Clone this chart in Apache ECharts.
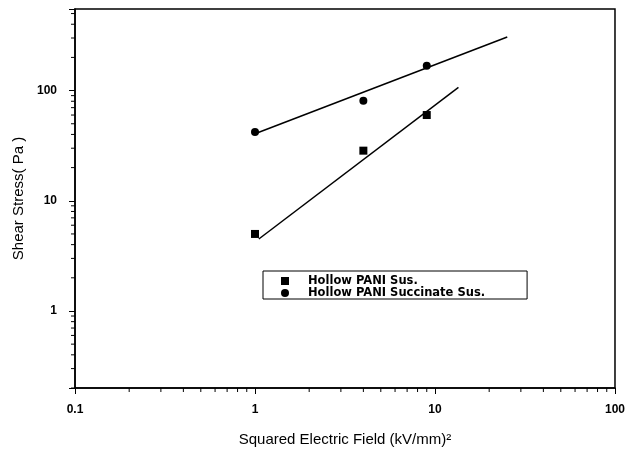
<!DOCTYPE html>
<html>
<head>
<meta charset="utf-8">
<script src="https://cdn.jsdelivr.net/npm/echarts@6/dist/echarts.min.js"></script>
<style>
html,body{margin:0;padding:0;background:#fff;}
#chart{width:628px;height:455px;}
</style>
</head>
<body>
<div id="chart"></div>
<script>
// Data
const seriesNames = ['Hollow PANI Sus.', 'Hollow PANI Succinate Sus.'];
const susX = [1, 4, 9];
const susY = [5, 28.5, 60];
const sucX = [1, 4, 9];
const sucY = [42, 81, 168];
// fitted lines (start and end points)
const susFitX = [1.05, 13.5];
const susFitY = [4.5, 107];
const sucFitX = [1, 25.2];
const sucFitY = [40.6, 306];
// axis ranges / tick labels
const xRange = [0.1, 100];
const yRange = [0.2, 550];
const xTickLabels = ['0.1', '1', '10', '100'];
const yTickLabels = ['1', '10', '100'];

function zip(a, b) { return a.map((v, i) => [v, b[i]]); }
function minorTicks(lo, hi) {
  const out = [];
  for (let e = -2; e <= 3; e++) {
    for (let m = 2; m <= 9; m++) {
      const v = +(m * Math.pow(10, e)).toPrecision(6);
      if (v >= lo && v <= hi) out.push(v);
    }
  }
  return out;
}
const xMinor = minorTicks(xRange[0], xRange[1]);
const yMinor = minorTicks(yRange[0], yRange[1]);

const font = '"Liberation Sans", Arial, sans-serif';
const legendFont = '"DejaVu Sans", sans-serif';
const chart = echarts.init(document.getElementById('chart'), null, {renderer: 'canvas'});

function fmt(labels) {
  return function (v) {
    const s = String(+v.toPrecision(6));
    return labels.indexOf(s) >= 0 ? s : '';
  };
}

chart.setOption({
  animation: false,
  backgroundColor: '#fff',
  grid: {left: 75, right: 11, top: 9, bottom: 67, show: true, borderColor: '#000', borderWidth: 1.5},
  xAxis: {
    type: 'log', logBase: 10, min: xRange[0], max: xRange[1],
    name: 'Squared Electric Field (kV/mm)\u00B2', nameLocation: 'middle', nameGap: 44,
    nameTextStyle: {fontFamily: font, fontSize: 15, color: '#000'},
    axisLine: {lineStyle: {color: '#000', width: 1.5}},
    axisTick: {show: true, inside: false, length: 6, lineStyle: {color: '#000', width: 1}},
    axisLabel: {formatter: fmt(xTickLabels), fontFamily: font, fontSize: 12, fontWeight: 'bold', color: '#000', margin: 16, showMinLabel: true, showMaxLabel: true},
    splitLine: {show: false}
  },
  yAxis: {
    type: 'log', logBase: 10, min: yRange[0], max: yRange[1],
    name: 'Shear Stress( Pa )', nameLocation: 'middle', nameGap: 43,
    nameTextStyle: {fontFamily: font, fontSize: 15, color: '#000'},
    axisLine: {lineStyle: {color: '#000', width: 1.5}},
    axisTick: {show: true, inside: false, length: 6, lineStyle: {color: '#000', width: 1}},
    axisLabel: {formatter: fmt(yTickLabels), fontFamily: font, fontSize: 12, fontWeight: 'bold', color: '#000', margin: 18},
    splitLine: {show: false}
  },
  legend: {
    data: [{name: seriesNames[0], icon: 'rect'}, {name: seriesNames[1], icon: 'circle'}],
    orient: 'vertical', left: 263, top: 271,
    padding: [4, 42, 0, 18], itemGap: 0, itemWidth: 8, itemHeight: 8,
    borderColor: '#000', borderWidth: 1,
    textStyle: {fontFamily: legendFont, fontSize: 11.5, fontWeight: 'bold', color: '#000', padding: [0, 0, 0, 14], lineHeight: 10}
  },
  series: [
    {name: seriesNames[0], type: 'scatter', symbol: 'rect', symbolSize: 8, itemStyle: {color: '#000', opacity: 1}, data: zip(susX, susY), z: 5},
    {name: seriesNames[1], type: 'scatter', symbol: 'circle', symbolSize: 8, itemStyle: {color: '#000', opacity: 1}, data: zip(sucX, sucY), z: 5},
    {name: 'fit1', type: 'line', data: zip(susFitX, susFitY), symbol: 'none', lineStyle: {color: '#000', width: 1.5}},
    {name: 'fit2', type: 'line', data: zip(sucFitX, sucFitY), symbol: 'none', lineStyle: {color: '#000', width: 1.5}},
    {name: 'xminor', type: 'custom', silent: true, clip: false,
      data: xMinor.map(v => [v, yRange[0]]),
      renderItem: function (params, api) {
        const p = api.coord([api.value(0), api.value(1)]);
        return {type: 'line', shape: {x1: p[0], y1: p[1], x2: p[0], y2: p[1] + 4}, style: {stroke: '#000', lineWidth: 1}};
      }},
    {name: 'yminor', type: 'custom', silent: true, clip: false,
      data: yMinor.map(v => [xRange[0], v]),
      renderItem: function (params, api) {
        const p = api.coord([api.value(0), api.value(1)]);
        return {type: 'line', shape: {x1: p[0], y1: p[1], x2: p[0] - 4, y2: p[1]}, style: {stroke: '#000', lineWidth: 1}};
      }}
  ]
});
</script>
</body>
</html>
